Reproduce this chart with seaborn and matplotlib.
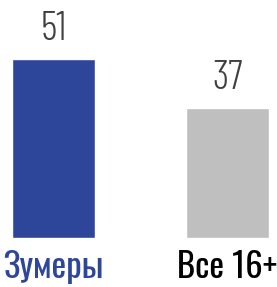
import pandas as pd
import matplotlib.pyplot as plt
import seaborn as sns

categories = ['Зумеры', 'Все 16+']
values = [51, 37]
bar_colors = ['#2E4699', '#BFBFBF']
label_colors = ['#2E4699', '#000000']

sns.set_theme(style='white')
plt.rcParams['font.family'] = ['Oswald', 'DejaVu Sans']

df = pd.DataFrame({'group': categories, 'value': values})

fig = plt.figure(figsize=(2.77, 2.87), dpi=100)
ax = fig.add_axes([0, 49 / 287, 1, 238 / 287])
sns.barplot(data=df, x='group', y='value', hue='group', palette=bar_colors,
            width=0.477, legend=False, ax=ax, saturation=1)

ax.set_xlim(-0.307, 1.284)
ax.set_ylim(0, 67.8)
for side in ax.spines.values():
    side.set_visible(False)
ax.set_yticks([])
ax.set_xlabel('')
ax.set_ylabel('')
ax.tick_params(axis='x', length=0, pad=9)
ax.set_xticks(range(len(categories)))
ax.set_xticklabels(categories, fontsize=25, fontweight='regular')
for lbl, c in zip(ax.get_xticklabels(), label_colors):
    lbl.set_color(c)

# thin condensed digits for the value labels
for i, v in enumerate(values):
    ax.annotate(str(v), (i, v), xytext=(0, 8), textcoords='offset points',
                ha='center', va='bottom', fontsize=29, fontweight=300,
                family=['Barlow Condensed', 'Oswald'], color='#404040')

fig.savefig('out.png', dpi=100)
